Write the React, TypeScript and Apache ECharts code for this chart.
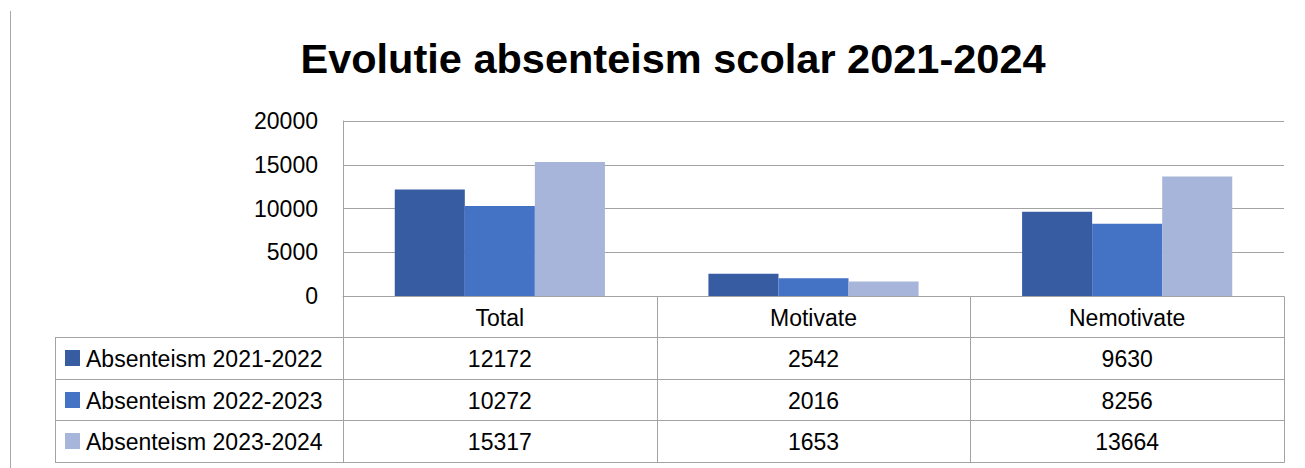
import React, { useEffect, useRef } from "react";
import * as echarts from "echarts";

const titleText = "Evolutie absenteism scolar 2021-2024";
const categories = ["Total", "Motivate", "Nemotivate"];
const seriesNames = ["Absenteism 2021-2022", "Absenteism 2022-2023", "Absenteism 2023-2024"];
const values2122 = [12172, 2542, 9630];
const values2223 = [10272, 2016, 8256];
const values2324 = [15317, 1653, 13664];
const yTicks = [0, 5000, 10000, 15000, 20000];

const seriesValues = [values2122, values2223, values2324];
const colors = ["#375ca2", "#4472c4", "#a7b5da"];
const lineColor = "#a3a3a3";
const FONT = "'Liberation Sans', Arial, sans-serif";

const W = 1305;
const H = 468;
const gridLeft = 343;
const gridRight = 1284;
const gridTop = 121;
const gridBottom = 296;
const headerBottom = 337;
const rowH = 41.67;
const tableLeft = 55;

const px = (v: number) => Math.round(v) + 0.5;

export default function App() {
  const ref = useRef<HTMLDivElement>(null);

  useEffect(() => {
    if (!ref.current) return;
    const chart = echarts.init(ref.current, null, { renderer: "svg", width: W, height: H });

    const baseOption: any = {
      animation: false,
      backgroundColor: "#ffffff",
      title: {
        text: titleText,
        left: 668,
        textAlign: "center",
        top: 32,
        textStyle: { fontFamily: FONT, fontSize: 41.5, fontWeight: "bold", color: "#000" },
      },
      grid: {
        left: gridLeft,
        right: W - gridRight,
        top: gridTop,
        bottom: H - gridBottom,
        outerBoundsMode: "none",
      },
      xAxis: {
        type: "category",
        data: categories,
        axisLine: { show: true, lineStyle: { color: lineColor, width: 1 } },
        axisTick: { show: false },
        axisLabel: { fontFamily: FONT, fontSize: 23, color: "#000", margin: 10 },
      },
      yAxis: {
        type: "value",
        min: yTicks[0],
        max: yTicks[yTicks.length - 1],
        interval: yTicks[1] - yTicks[0],
        axisLine: { show: true, lineStyle: { color: lineColor, width: 1 } },
        axisTick: { show: false },
        axisLabel: {
          fontFamily: FONT,
          fontSize: 23,
          color: "#000",
          margin: 25,
          formatter: (v: number) => String(v),
        },
        splitLine: { show: true, lineStyle: { color: lineColor, width: 1 } },
      },
      series: seriesNames.map((name, i) => ({
        name,
        type: "bar",
        data: seriesValues[i],
        barGap: "0%",
        barCategoryGap: "33%",
        itemStyle: { color: colors[i] },
      })),
    };
    chart.setOption(baseOption);

    // Category boundaries and centres from the axis scale
    const centers = categories.map((c) => chart.convertToPixel({ xAxisIndex: 0 }, c) as number);
    const catW = centers.length > 1 ? centers[1] - centers[0] : gridRight - gridLeft;
    const bounds = [centers[0] - catW / 2, ...centers.map((c) => c + catW / 2)];

    const rowTops = [headerBottom, headerBottom + rowH, headerBottom + 2 * rowH, headerBottom + 3 * rowH];
    const graphics: any[] = [];
    const ls = { stroke: lineColor, lineWidth: 1 };

    // left page line
    graphics.push({ type: "line", shape: { x1: 10.5, y1: 11, x2: 10.5, y2: H }, style: { stroke: "#a8a8a8", lineWidth: 1 } });

    // horizontal table lines
    rowTops.forEach((y) => {
      graphics.push({ type: "line", shape: { x1: tableLeft, y1: px(y), x2: px(bounds[bounds.length - 1]), y2: px(y) }, style: ls });
    });
    // vertical lines
    graphics.push({ type: "line", shape: { x1: px(tableLeft), y1: px(headerBottom), x2: px(tableLeft), y2: px(rowTops[3]) }, style: ls });
    bounds.forEach((x) => {
      graphics.push({ type: "line", shape: { x1: px(x), y1: px(gridBottom), x2: px(x), y2: px(rowTops[3]) }, style: ls });
    });

    // rows
    seriesNames.forEach((name, i) => {
      const cy = rowTops[i] + rowH / 2;
      graphics.push({ type: "rect", shape: { x: 65, y: Math.round(cy) - 8, width: 15, height: 16 }, style: { fill: colors[i] } });
      graphics.push({
        type: "text",
        x: 86,
        y: cy + 1,
        style: { text: name, fontFamily: FONT, fontSize: 23, fill: "#000", textAlign: "left", textVerticalAlign: "middle", verticalAlign: "middle" },
      });
      seriesValues[i].forEach((v, j) => {
        graphics.push({
          type: "text",
          x: centers[j],
          y: cy + 1,
          style: { text: String(v), fontFamily: FONT, fontSize: 23, fill: "#000", textAlign: "center", textVerticalAlign: "middle", verticalAlign: "middle" },
        });
      });
    });

    chart.setOption({ graphic: { elements: graphics } });

    return () => chart.dispose();
  }, []);

  return (
    <div
      ref={ref}
      style={{ position: "fixed", left: 0, top: 0, width: W, height: H, background: "#fff" }}
    />
  );
}
